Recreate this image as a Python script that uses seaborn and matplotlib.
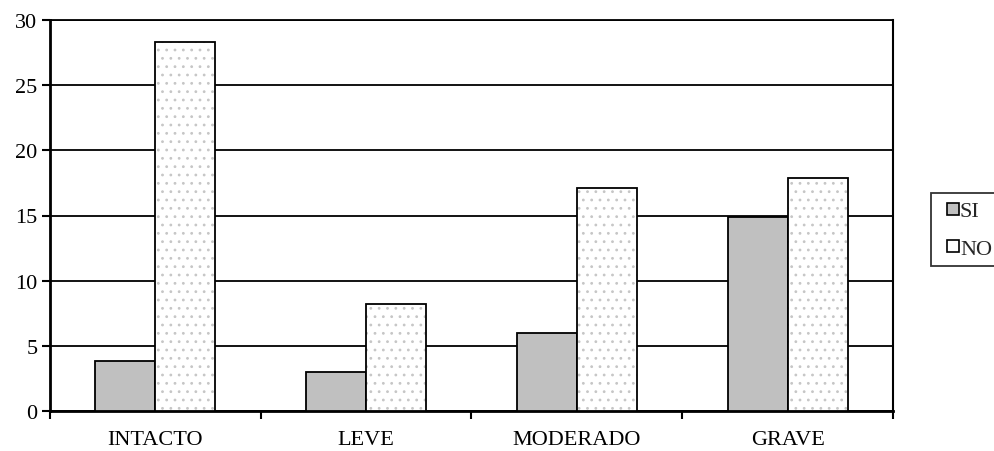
import matplotlib
matplotlib.use("Agg")
import matplotlib.pyplot as plt
import matplotlib.colors as mcolors
from matplotlib.lines import Line2D
from matplotlib.ticker import FixedLocator
import seaborn as sns
import pandas as pd

categories = ["INTACTO", "LEVE", "MODERADO", "GRAVE"]
series = ["SI", "NO"]
si_values = [3.8, 3.0, 6.0, 14.9]
no_values = [28.3, 8.2, 17.1, 17.9]
y_ticks = [0, 5, 10, 15, 20, 25, 30]

df = pd.DataFrame({
    "grupo": categories * 2,
    "serie": ["SI"] * len(categories) + ["NO"] * len(categories),
    "valor": si_values + no_values,
})

sns.set_theme(style="white")
plt.rcParams["font.family"] = ["Liberation Serif", "DejaVu Serif"]
plt.rcParams["hatch.linewidth"] = 0.8

FS = 16

fig = plt.figure(figsize=(9.95, 4.52), dpi=100)
ax = fig.add_axes([50 / 995, 1 - 412 / 452, 843 / 995, 391 / 452])

palette = {"SI": "#c0c0c0", "NO": "#ffffff"}
sns.barplot(data=df, x="grupo", y="valor", hue="serie", order=categories,
            hue_order=series, palette=palette, width=0.57, saturation=1,
            edgecolor="black", linewidth=1.3, legend=False, ax=ax, zorder=3)

# light dotted fill for the NO series
dot_color = mcolors.to_rgba("#c6c6c6")
for container, name in zip(ax.containers, series):
    if name == "NO":
        for p in container.patches:
            p.set_hatch("..")
            p._hatch_color = dot_color

ax.set_ylim(0, 30)
ax.set_xlim(-0.5, len(categories) - 0.5)
ax.set_yticks(y_ticks)
ax.set_yticklabels([str(t) for t in y_ticks], fontsize=FS, color="black")
ax.set_xticks(range(len(categories)))
ax.set_xticklabels(categories, fontsize=FS, color="black")
ax.xaxis.set_minor_locator(FixedLocator([i - 0.5 for i in range(len(categories) + 1)]))
ax.tick_params(axis="x", which="major", length=0, pad=14)
ax.tick_params(axis="x", which="minor", length=6, width=1.5, color="black", direction="out", bottom=True)
ax.tick_params(axis="y", length=6, width=1.5, color="black", direction="out", left=True, pad=3)
ax.set_xlabel("")
ax.set_ylabel("")

ax.yaxis.grid(True, color="black", linewidth=1.3)
ax.set_axisbelow(True)
for side in ["left", "bottom", "right", "top"]:
    ax.spines[side].set_visible(True)
    ax.spines[side].set_color("black")
ax.spines["left"].set_linewidth(2.0)
ax.spines["bottom"].set_linewidth(2.0)
ax.spines["right"].set_linewidth(1.5)
ax.spines["top"].set_linewidth(1.3)

handles = [
    Line2D([], [], linestyle="none", marker="s", markersize=8,
           markerfacecolor="#c0c0c0", markeredgecolor="black",
           markeredgewidth=1.2, label="SI"),
    Line2D([], [], linestyle="none", marker="s", markersize=8,
           markerfacecolor="#ffffff", markeredgecolor="black",
           markeredgewidth=1.2, label="NO"),
]
leg = fig.legend(handles=handles, loc="upper left",
                 bbox_to_anchor=(931 / 995, 1 - 194 / 452),
                 fontsize=FS, frameon=True, fancybox=False,
                 handlelength=1.3, handletextpad=-0.35,
                 labelspacing=0.75, borderpad=0.35, borderaxespad=0)
leg.get_frame().set_edgecolor("black")
leg.get_frame().set_linewidth(1.3)

fig.savefig("out.png", dpi=100)
